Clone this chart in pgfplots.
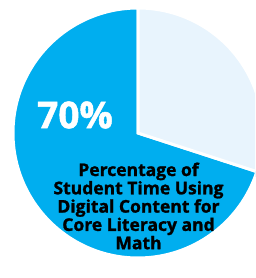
\documentclass[border=0pt]{standalone}
\usepackage{pgfplots}
\pgfplotsset{compat=1.18}
\usepackage{pgfplotstable}
\usepackage{fontspec}
\setmainfont{Open Sans}[BoldFeatures={FakeBold=1.3}]
\definecolor{pieblue}{HTML}{00AEEF}
\definecolor{pielight}{HTML}{E8F4FD}
\pgfplotstableread{
label value
Digital 70
Other 30
}\piedata
\begin{document}
\begin{tikzpicture}
\begin{axis}[hide axis, x=1pt, y=1pt, xmin=-138, xmax=117, ymin=-145, ymax=133, clip=true,
  scale only axis]
\pgfplotstablegetelem{0}{value}\of\piedata \let\va\pgfplotsretval
\pgfplotstablegetelem{1}{value}\of\piedata \let\vb\pgfplotsretval
\pgfmathsetmacro\aend{90+3.6*\va}
\fill[pieblue, draw=white, line width=3pt] (axis cs:0,0) -- ++(90:125pt) arc[start angle=90, end angle=\aend, radius=125pt] -- cycle;
\fill[pielight, draw=white, line width=3pt] (axis cs:0,0) -- ++(\aend:125pt) arc[start angle=\aend, end angle=450, radius=125pt] -- cycle;
\node[white, font=\bfseries\fontsize{37}{37}\selectfont] at (axis cs:-63,18) {\va\%};
\node[black, align=center, font=\bfseries\fontsize{17.5}{18.3}\selectfont] at (axis cs:0.5,-73)
  {Percentage of\\Student Time Using\\Digital Content for\\Core Literacy and\\Math};
\end{axis}
\pgfresetboundingbox
\useasboundingbox (current axis.south west) rectangle (current axis.north east);
\end{tikzpicture}
\end{document}
